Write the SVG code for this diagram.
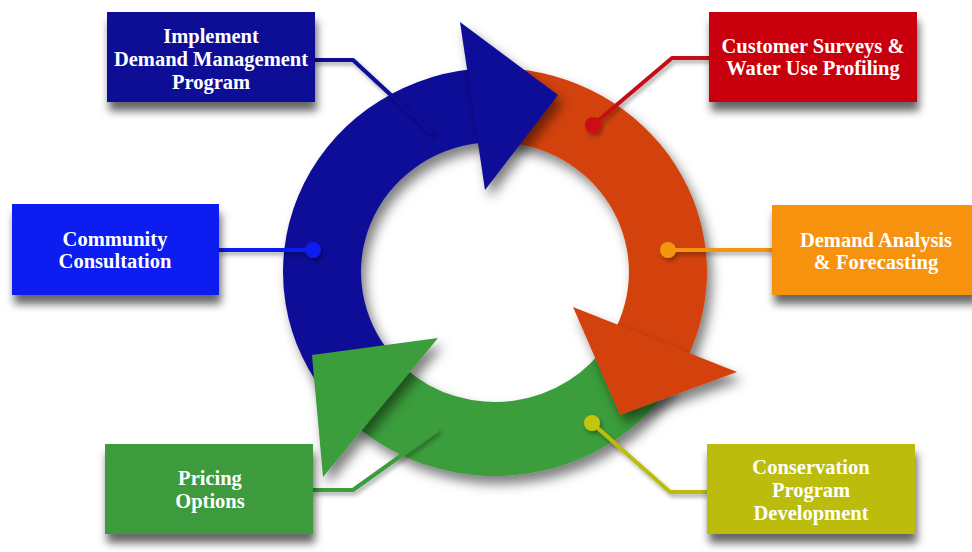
<svg xmlns="http://www.w3.org/2000/svg" width="972" height="552" viewBox="0 0 972 552">
  <defs>
    <filter id="shadow" x="-20%" y="-20%" width="150%" height="150%">
      <feDropShadow dx="5" dy="8" stdDeviation="6" flood-color="#000" flood-opacity="0.5"/>
    </filter>
    <filter id="boxshadow" x="-20%" y="-20%" width="150%" height="160%">
      <feDropShadow dx="2" dy="9" stdDeviation="4" flood-color="#000" flood-opacity="0.6"/>
    </filter>
    <filter id="lineshadow" x="-20%" y="-20%" width="150%" height="150%">
      <feDropShadow dx="2" dy="3" stdDeviation="2" flood-color="#000" flood-opacity="0.35"/>
    </filter>
  </defs>
  <style>
    .lbl { font-family: "Liberation Serif", "Times New Roman", serif; font-weight: bold; font-size: 20.5px; fill: #ffffff; text-anchor: middle; }
    .box { filter: url(#boxshadow); }
    .conn { fill: none; stroke-width: 4; stroke-linejoin: round; stroke-linecap: round; }
    .arr { filter: url(#shadow); }
  </style>
  <rect x="0" y="0" width="972" height="552" fill="#ffffff"/>

  <!-- cycle arrows -->
  <g id="cycle">
    <path class="arr" d="M 332.6 403.1 A 212 204 0 0 1 472.8 69.1 L 481.0 142.7 A 134 130 0 0 0 392.4 355.6 Z" fill="#0b0b98"/>
    <path class="arr" d="M 502.4 68.1 A 212 204 0 0 1 687.1 358.2 L 616.4 326.9 A 134 130 0 0 0 499.7 142.1 Z" fill="#d3430a"/>
    <path class="arr" d="M 674.8 380.1 A 212 204 0 0 1 353.1 423.6 L 405.3 368.6 A 134 130 0 0 0 608.6 340.9 Z" fill="#3b9d3b"/>
    <polygon class="arr" points="460,22 558,95 485,190" fill="#0b0b98"/>
    <polygon class="arr" points="573,307 737,372 620,415" fill="#d3430a"/>
    <polygon class="arr" points="438,338 312,355 323,477" fill="#3b9d3b"/>
  </g>

  <!-- connectors -->
  <g id="connectors" filter="url(#lineshadow)">
    <polyline class="conn" points="315,60 353,60 432,133" stroke="#0b0b98"/>
    <polyline class="conn" points="709,58 672,58 593,125" stroke="#c40b14"/>
    <circle cx="593" cy="125" r="8" fill="#cc0a14"/>
    <line class="conn" x1="219" y1="250" x2="313" y2="250" stroke="#0b1bf0"/>
    <circle cx="313" cy="250" r="8" fill="#0b1bf0"/>
    <line class="conn" x1="668" y1="250" x2="772" y2="250" stroke="#f5940f"/>
    <circle cx="668" cy="250" r="8" fill="#f5940f"/>
    <polyline class="conn" points="313,490 353,490 437,430" stroke="#3b9d3b"/>
    <polyline class="conn" points="592,423 670,492 707,492" stroke="#bcbc0a"/>
    <circle cx="592" cy="423" r="8" fill="#c4c40a"/>
  </g>

  <!-- nodes -->
  <g id="implement">
    <rect class="box" x="107" y="12" width="208" height="90" fill="#0c0c96"/>
    <text class="lbl" x="211" y="43">Implement</text>
    <text class="lbl" x="211" y="66">Demand Management</text>
    <text class="lbl" x="211" y="89">Program</text>
  </g>
  <g id="customer-surveys">
    <rect class="box" x="709" y="12" width="208" height="90" fill="#c8000e"/>
    <text class="lbl" x="813" y="53">Customer Surveys &amp;</text>
    <text class="lbl" x="813" y="75">Water Use Profiling</text>
  </g>
  <g id="community">
    <rect class="box" x="12" y="204" width="207" height="91" fill="#0b1bf0"/>
    <text class="lbl" x="115" y="246">Community</text>
    <text class="lbl" x="115" y="268">Consultation</text>
  </g>
  <g id="demand-analysis">
    <rect class="box" x="772" y="205" width="204" height="90" fill="#f6920e"/>
    <text class="lbl" x="876" y="247">Demand Analysis</text>
    <text class="lbl" x="876" y="269">&amp; Forecasting</text>
  </g>
  <g id="pricing">
    <rect class="box" x="105" y="444" width="208" height="90" fill="#3c9a3c"/>
    <text class="lbl" x="210" y="485">Pricing</text>
    <text class="lbl" x="210" y="508">Options</text>
  </g>
  <g id="conservation">
    <rect class="box" x="707" y="444" width="208" height="90" fill="#bcbc08"/>
    <text class="lbl" x="811" y="474">Conservation</text>
    <text class="lbl" x="811" y="497">Program</text>
    <text class="lbl" x="811" y="520">Development</text>
  </g>
</svg>
